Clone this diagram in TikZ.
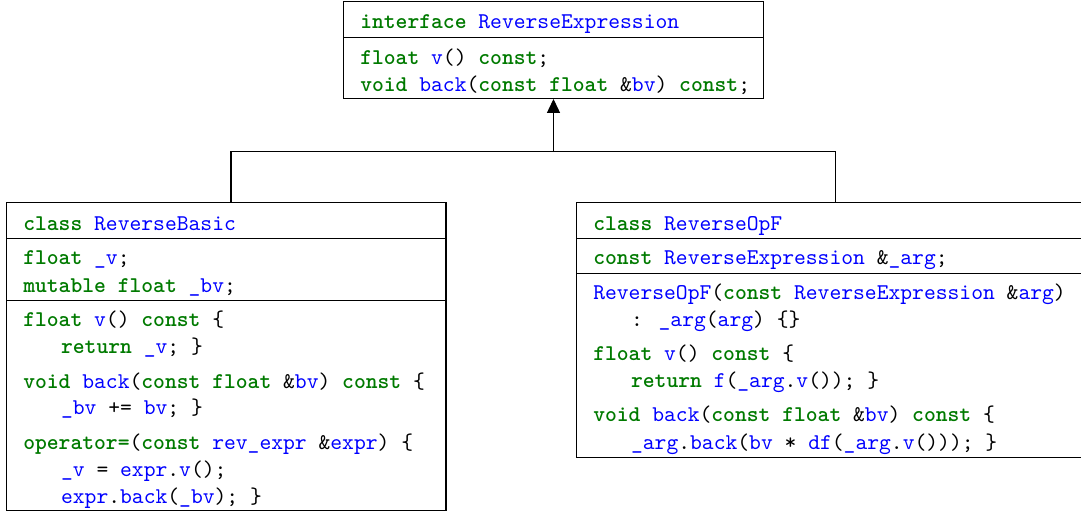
\documentclass[tikz,border=0pt]{standalone}
\usetikzlibrary{arrows.meta,fit}
\definecolor{kwgreen}{RGB}{0,122,0}
\definecolor{idblue}{RGB}{0,0,255}
\newcommand\KW[1]{\textcolor{kwgreen}{\bfseries #1}}
\newcommand\ID[1]{\textcolor{idblue}{#1}}
\newcommand\codeindent{\hspace*{16.8pt}}
\tikzset{
  umlbox/.style={draw, line width=0.45pt, inner sep=0pt},
  code/.style={anchor=base west, inner sep=0pt, font=\ttfamily, xshift=0.6pt, yshift=-0.35pt},
  sepline/.style={line width=0.45pt},
  inherit/.style={line width=0.45pt},
}
\begin{document}
\begin{tikzpicture}[x=0.44444pt,y=-0.44444pt]
\useasboundingbox (0,0) rectangle (1081,512);
% boxes
\node[umlbox, fit={(343.5,2) (763.5,98.5)}] (iface) {};
\node[umlbox, fit={(6.5,203) (446,511)}] (lb) {};
\node[umlbox, fit={(576.5,203) (1086,457.3)}] (rb) {};
% separators
\draw[sepline] (343.5,37.3) -- (763.5,37.3);
\draw[sepline] (6.5,238.3) -- (446,238.3);
\draw[sepline] (6.5,300.3) -- (446,300.3);
\draw[sepline] (576.5,238.3) -- (1086,238.3);
\draw[sepline] (576.5,273.7) -- (1086,273.7);
% interface text
\node[code] (i1) at (358.5,27.3) {\KW{interface} \ID{ReverseExpression}};
\node[code] (i2) at (358.5,63.3) {\KW{float} \ID{v}() \KW{const};};
\node[code] (i3) at (358.5,90.7) {\KW{void} \ID{back}(\KW{const} \KW{float} \&\ID{bv}) \KW{const};};
% ReverseBasic text
\node[code] (l1) at (21.5,229.3) {\KW{class} \ID{ReverseBasic}};
\node[code] (l2) at (21.5,264) {\KW{float} \ID{\_v};};
\node[code] (l3) at (21.5,291.7) {\KW{mutable} \KW{float} \ID{\_bv};};
\node[code] (l4) at (21.5,326) {\KW{float} \ID{v}() \KW{const} \{};
\node[code] (l5) at (21.5,353) {\codeindent\KW{return} \ID{\_v}; \}};
\node[code] (l6) at (21.5,387.3) {\KW{void} \ID{back}(\KW{const} \KW{float} \&\ID{bv}) \KW{const} \{};
\node[code] (l7) at (21.5,414) {\codeindent\ID{\_bv} += \ID{bv}; \}};
\node[code] (l8) at (21.5,448.3) {\KW{operator=}(\KW{const} \ID{rev\_expr} \&\ID{expr}) \{};
\node[code] (l9) at (21.5,475.7) {\codeindent\ID{\_v} = \ID{expr}.\ID{v}();};
\node[code] (l10) at (21.5,502.3) {\codeindent\ID{expr}.\ID{back}(\ID{\_bv}); \}};
% ReverseOpF text
\node[code] (r1) at (591.5,229.3) {\KW{class} \ID{ReverseOpF}};
\node[code] (r2) at (591.5,264) {\KW{const} \ID{ReverseExpression} \&\ID{\_arg};};
\node[code] (r3) at (591.5,299) {\ID{ReverseOpF}(\KW{const} \ID{ReverseExpression} \&\ID{arg})};
\node[code] (r4) at (591.5,326) {\codeindent: \ID{\_arg}(\ID{arg}) \{\}};
\node[code] (r5) at (591.5,360) {\KW{float} \ID{v}() \KW{const} \{};
\node[code] (r6) at (591.5,386.7) {\codeindent\KW{return} \ID{f}(\ID{\_arg}.\ID{v}()); \}};
\node[code] (r7) at (591.5,421) {\KW{void} \ID{back}(\KW{const} \KW{float} \&\ID{bv}) \KW{const} \{};
\node[code] (r8) at (591.5,448.3) {\codeindent\ID{\_arg}.\ID{back}(\ID{bv} * \ID{df}(\ID{\_arg}.\ID{v}())); \}};
% inheritance connector
\coordinate (jl) at (231,151.5);
\coordinate (jm) at (553.5,151.5);
\coordinate (jr) at (835,151.5);
\draw[inherit] (jl |- lb.north) -- (jl) -- (jr) -- (jr |- rb.north);
\draw[inherit, -{Triangle[length=6.2pt, width=5.8pt]}] (jm) -- (jm |- iface.south);
\end{tikzpicture}
\end{document}
